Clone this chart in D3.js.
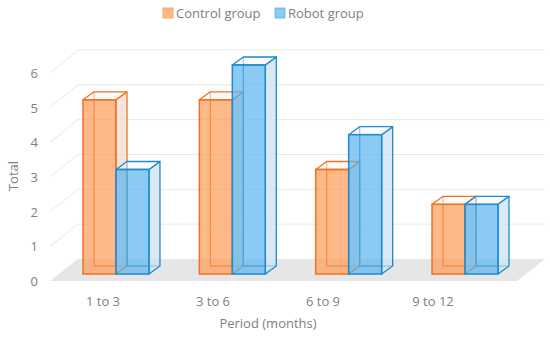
<!DOCTYPE html>
<html>
<head>
<meta charset="utf-8">
<script src="https://cdn.jsdelivr.net/npm/d3@7"></script>
<style>
  html, body { margin: 0; padding: 0; background: #fff; }
  svg { display: block; font-family: "Open Sans", "Noto Sans", sans-serif; }
</style>
</head>
<body>
<div id="chart"></div>
<script>
// chart data
const categories = ["1 to 3", "3 to 6", "6 to 9", "9 to 12"];
const seriesNames = ["Control group", "Robot group"];
const controlGroup = [5, 5, 3, 2];
const robotGroup = [3, 6, 4, 2];
const yTickValues = [0, 1, 2, 3, 4, 5, 6];

const width = 550, height = 338;
const colors = {
  "Control group": { fill: "#ff9a55", stroke: "#ef7320" },
  "Robot group": { fill: "#5ab4ec", stroke: "#1c8bd1" }
};
const textColor = "#808080";
const gridColor = "#e8e8e8";

const svg = d3.select("#chart").append("svg")
  .attr("width", width)
  .attr("height", height);

// 3d geometry: front of floor, back wall and depth of the bars
const wallDx = 28, wallDy = -22;
const barDx = 11, barDy = -8;
const floorLeft = 50, floorRight = 517;

const yFront = d3.scaleLinear().domain([0, 6]).range([281, 73]);
const yBack = d3.scaleLinear().domain([0, 6]).range([259, 50]);
const yBar = d3.scaleLinear().domain([0, 6]).range([274, 65]);

const xGroup = d3.scaleBand().domain(categories).range([83, 498]).paddingInner(0.433);
const xSeries = d3.scaleBand().domain(seriesNames).range([0, xGroup.bandwidth()]);
const xLabel = d3.scalePoint().domain(categories).range([103, 433]);

// floor
svg.append("path")
  .attr("d", d3.line()([
    [floorLeft, yFront(0)],
    [floorLeft + wallDx, yBack(0)],
    [floorRight + wallDx, yBack(0)],
    [floorRight, yFront(0)]
  ]) + "Z")
  .attr("fill", "#e6e6e6");

// gridlines on back wall and side wall
const grid = svg.append("g").attr("stroke", gridColor).attr("fill", "none");
grid.selectAll("line.back")
  .data(yTickValues.filter(d => d > 0))
  .join("line")
  .attr("class", "back")
  .attr("x1", floorLeft + wallDx).attr("x2", floorRight + wallDx)
  .attr("y1", d => yBack(d)).attr("y2", d => yBack(d));
grid.selectAll("line.side")
  .data(yTickValues.filter(d => d > 0))
  .join("line")
  .attr("class", "side")
  .attr("x1", floorLeft).attr("x2", floorLeft + wallDx)
  .attr("y1", d => yFront(d)).attr("y2", d => yBack(d));

// y tick labels
svg.append("g")
  .selectAll("text")
  .data(yTickValues)
  .join("text")
  .attr("x", 38)
  .attr("y", d => yFront(d))
  .attr("text-anchor", "end")
  .attr("dominant-baseline", "central")
  .attr("font-size", 13)
  .attr("fill", textColor)
  .text(d => d);

// bars
const barData = [];
categories.forEach((c, i) => {
  barData.push({ cat: c, series: "Control group", value: controlGroup[i] });
  barData.push({ cat: c, series: "Robot group", value: robotGroup[i] });
});

const bars = svg.append("g")
  .selectAll("g.bar")
  .data(barData)
  .join("g")
  .attr("class", "bar");

bars.each(function (d) {
  const g = d3.select(this);
  const col = colors[d.series];
  const x0 = xGroup(d.cat) + xSeries(d.series);
  const x1 = x0 + xSeries.bandwidth();
  const y0 = yBar(0);
  const y1 = yBar(d.value);
  const sideFill = d3.interpolateRgb(col.fill, "#e9ebed")(0.82);

  // back edges, seen through the faces
  g.append("path")
    .attr("d", d3.line()([[x0 + barDx, y1 + barDy], [x0 + barDx, y0 + barDy], [x1 + barDx, y0 + barDy]]))
    .attr("fill", "none")
    .attr("stroke", col.stroke)
    .attr("stroke-width", 1.3);

  // right side face
  g.append("path")
    .attr("d", d3.line()([[x1, y1], [x1 + barDx, y1 + barDy], [x1 + barDx, y0 + barDy], [x1, y0]]) + "Z")
    .attr("fill", sideFill)
    .attr("fill-opacity", 0.75)
    .attr("stroke", col.stroke)
    .attr("stroke-width", 1.3)
    .attr("stroke-linejoin", "round");

  // top face
  g.append("path")
    .attr("d", d3.line()([[x0, y1], [x0 + barDx, y1 + barDy], [x1 + barDx, y1 + barDy], [x1, y1]]) + "Z")
    .attr("fill", "#f6f6f6")
    .attr("fill-opacity", 0.6)
    .attr("stroke", col.stroke)
    .attr("stroke-width", 1.3)
    .attr("stroke-linejoin", "round");

  // front face
  g.append("rect")
    .attr("x", x0)
    .attr("y", y1)
    .attr("width", x1 - x0)
    .attr("height", y0 - y1)
    .attr("fill", col.fill)
    .attr("fill-opacity", 0.7)
    .attr("stroke", col.stroke)
    .attr("stroke-width", 1.5);
});

// category labels
svg.append("g")
  .selectAll("text")
  .data(categories)
  .join("text")
  .attr("x", d => xLabel(d))
  .attr("y", 301)
  .attr("text-anchor", "middle")
  .attr("dominant-baseline", "central")
  .attr("font-size", 13)
  .attr("fill", textColor)
  .text(d => d);

// axis titles
svg.append("text")
  .attr("x", 268)
  .attr("y", 323)
  .attr("text-anchor", "middle")
  .attr("dominant-baseline", "central")
  .attr("font-size", 13)
  .attr("fill", textColor)
  .text("Period (months)");

svg.append("text")
  .attr("transform", "translate(13,176) rotate(-90)")
  .attr("text-anchor", "middle")
  .attr("dominant-baseline", "central")
  .attr("font-size", 13)
  .attr("fill", textColor)
  .text("Total");

// legend
const legendX = [163, 275];
const legend = svg.append("g")
  .selectAll("g")
  .data(seriesNames)
  .join("g")
  .attr("transform", (d, i) => `translate(${legendX[i]}, 8)`);
legend.append("rect")
  .attr("width", 10)
  .attr("height", 10)
  .attr("fill", d => colors[d].fill)
  .attr("fill-opacity", 0.7)
  .attr("stroke", d => colors[d].fill)
  .attr("stroke-width", 0.8);
legend.append("text")
  .attr("x", 13)
  .attr("y", 5)
  .attr("dominant-baseline", "central")
  .attr("font-size", 13)
  .attr("fill", textColor)
  .text(d => d);
</script>
</body>
</html>
